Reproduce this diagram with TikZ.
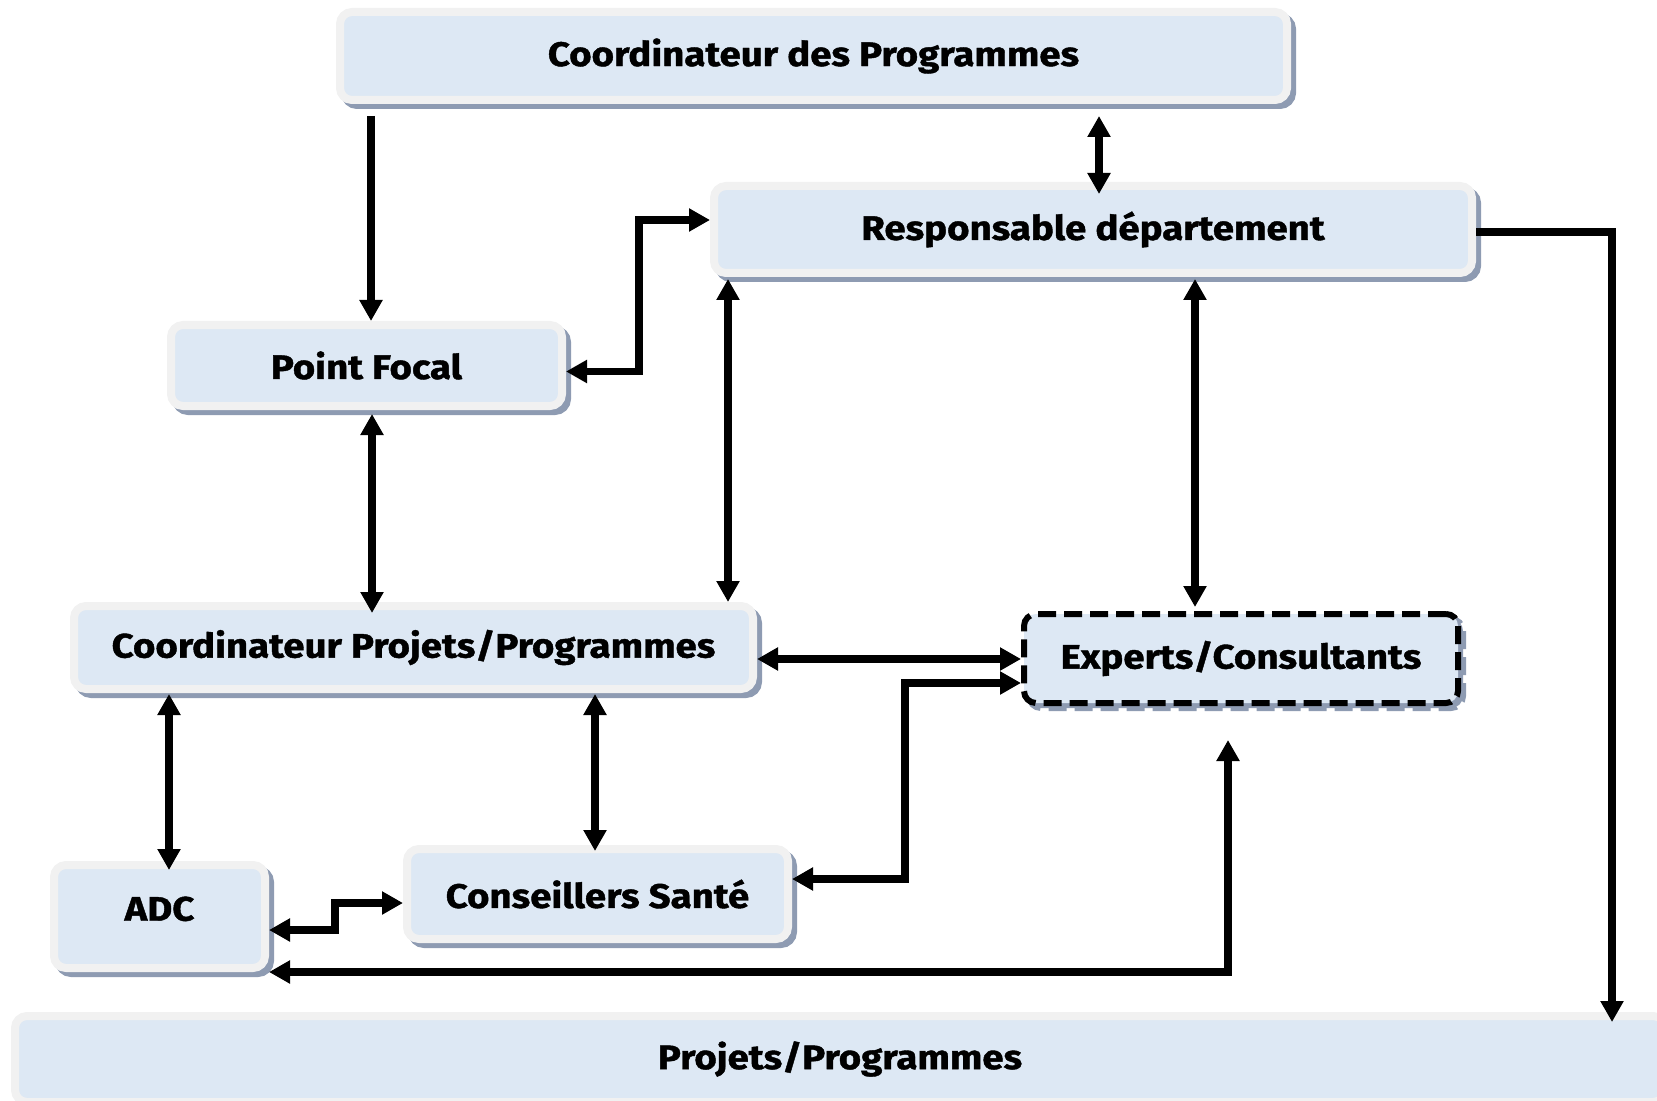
\documentclass[tikz,border=0pt]{standalone}
\usepackage{fontspec}
\setmainfont{Fira Sans}[BoldFeatures={FakeStretch=1.13, FakeBold=1.2}]
\usetikzlibrary{positioning, calc, arrows.meta, shadows}
\definecolor{boxFill}{HTML}{DDE8F4}
\definecolor{boxEdge}{HTML}{F1F1F1}
\definecolor{boxShadow}{HTML}{8E9BB2}
\tikzset{
    Box/.style = {
        draw=boxEdge, line width=4pt, fill=boxFill,
        rounded corners=6pt, align=center, inner sep=0pt,
        font=\fontsize{17}{20}\selectfont\bfseries,
        drop shadow={shadow xshift=2.5pt, shadow yshift=-2.5pt,
            fill=boxShadow, draw=boxShadow, opacity=1}
    },
    DashBox/.style = {
        Box, draw=black, line width=3pt, dash pattern=on 9pt off 4pt
    },
    Arrow/.style = {
        line width=3.6pt,
        -{Triangle[length=10.5pt, width=11pt]}
    },
    BiArrow/.style = {
        line width=3.6pt,
        {Triangle[length=10.5pt, width=11pt]}-{Triangle[length=10.5pt, width=11pt]}
    }
}

\begin{document}
\begin{tikzpicture}[x=0.5pt, y=-0.5pt]
    \useasboundingbox (0,0) rectangle (1657,1101);
    \node[Box, minimum width=473.5pt, minimum height=44pt] (cp) at (813.5,56) {Coordinateur des Programmes};
    \node[Box, minimum width=379pt, minimum height=43.5pt] (resp) at (1093,229.5) {Responsable département};
    \node[Box, minimum width=195.5pt, minimum height=40.5pt] (pf) at (366.5,365.5) {Point Focal};
    \node[Box, minimum width=339.5pt, minimum height=41.5pt] (cpp) at (413.5,647.5) {Coordinateur Projets/Programmes};
    \node[DashBox, minimum width=217pt, minimum height=44.5pt] (ex) at (1241,658.5) {Experts/Consultants};
    \node[Box, minimum width=105.5pt, minimum height=51.5pt] (adc) at (159.5,916.5) {\raisebox{-2.1pt}[0pt][0pt]{ADC}};
    \node[Box, minimum width=190.5pt, minimum height=45pt] (cs) at (597.5,894) {Conseillers Santé};
    \node[Box, minimum width=825pt, minimum height=43pt] (pp) at (840,1059) {Projets/Programmes};

    \draw [Arrow] ($(cp.south)+(-442.5,12)$) coordinate (a1) -- (a1 |- pf.north);
    \draw [BiArrow] ($(cp.south)+(285.5,12)$) -- ($(resp.north)+(6,12)$);
    \draw [BiArrow] ($(pf.east)+(0,6)$) -| ($(resp.west)+(-71,-9.5)$) -- ($(resp.west)+(0,-9.5)$);
    \draw [Arrow] ($(resp.east)+(0,2.5)$) -| ($(pp.north)+(772,10)$);
    \draw [BiArrow] ($(resp.south)+(-365,2)$) -- ($(cpp.north)+(314.5,0)$);
    \draw [BiArrow] ($(resp.south)+(102,2)$) -- ($(ex.north)+(-46,-4)$);
    \draw [BiArrow] ($(pf.south)+(5.5,4)$) -- ($(cpp.north)+(-41.5,11)$);
    \draw [BiArrow] ($(cpp.east)+(0,11.5)$) -- ($(ex.west)+(0,0.5)$);
    \draw [BiArrow] ($(cpp.south)+(-244.5,1)$) -- ($(adc.north)+(9.5,9)$);
    \draw [BiArrow] ($(cpp.south)+(181.5,1)$) -- ($(cs.north)+(-2.5,6)$);
    \draw [BiArrow] ($(adc.east)+(0,13.5)$) -| ($(cs.west)+(-68,9)$) -- ($(cs.west)+(0,9)$);
    \draw [BiArrow] ($(cs.east)+(0,-15)$) -| ($(ex.west)+(-116,24.5)$) -- ($(ex.west)+(0,24.5)$);
    \draw [BiArrow] ($(adc.east)+(0,55.5)$) -| ($(ex.south)+(-13,34)$);
\end{tikzpicture}
\end{document}
